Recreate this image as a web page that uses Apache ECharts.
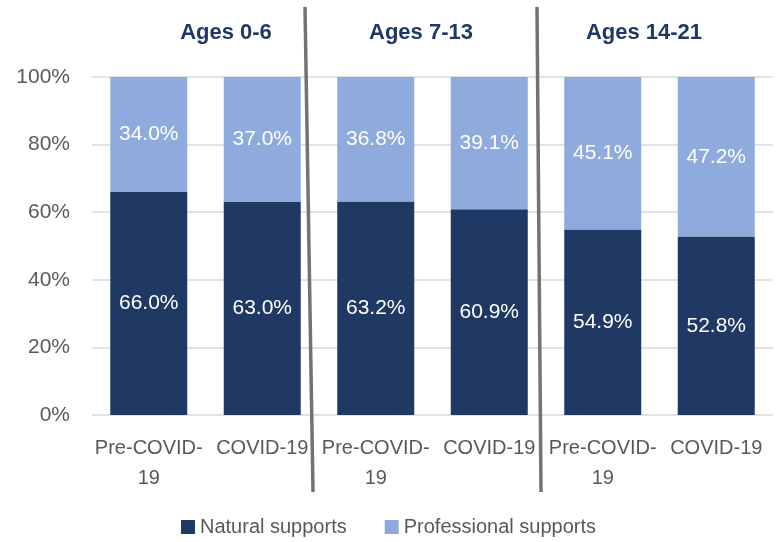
<!DOCTYPE html>
<html>
<head>
<meta charset="utf-8">
<script src="https://cdn.jsdelivr.net/npm/echarts@6/dist/echarts.min.js"></script>
<style>
  html, body { margin: 0; padding: 0; background: #fff; }
  #main { width: 777px; height: 542px; }
</style>
</head>
<body>
<div id="main"></div>
<script>
var categories = ['Pre-COVID-\n19', 'COVID-19', 'Pre-COVID-\n19', 'COVID-19', 'Pre-COVID-\n19', 'COVID-19'];
var natural = [66.0, 63.0, 63.2, 60.9, 54.9, 52.8];
var professional = [34.0, 37.0, 36.8, 39.1, 45.1, 47.2];
var groupTitles = ['Ages 0-6', 'Ages 7-13', 'Ages 14-21'];

var font = '"Liberation Sans", Arial, sans-serif';
var chart = echarts.init(document.getElementById('main'));

function pct(p) { return p.value.toFixed(1) + '%'; }

var option = {
    animation: false,
    textStyle: { fontFamily: font },
    grid: { left: 92, right: 4, top: 77, bottom: 127 },
    legend: {
        bottom: 0,
        left: 'center',
        itemWidth: 14,
        itemHeight: 14,
        itemGap: 38,
        icon: 'rect',
        textStyle: { fontSize: 20, color: '#595959', fontFamily: font },
        data: ['Natural supports', 'Professional supports']
    },
    xAxis: {
        type: 'category',
        data: categories,
        axisLine: { show: false },
        axisTick: { show: false },
        axisLabel: {
            interval: 0,
            fontSize: 20,
            lineHeight: 30,
            color: '#595959',
            margin: 18,
            fontFamily: font
        }
    },
    yAxis: {
        type: 'value',
        min: 0,
        max: 100,
        interval: 20,
        axisLabel: {
            formatter: '{value}%',
            fontSize: 21,
            color: '#595959',
            margin: 22,
            fontFamily: font
        },
        splitLine: { lineStyle: { color: '#d9d9d9', width: 1.5 } }
    },
    series: [
        {
            name: 'Natural supports',
            type: 'bar',
            stack: 'total',
            barWidth: 77,
            itemStyle: { color: '#203864' },
            label: { show: true, position: 'inside', color: '#fff', fontSize: 21, fontFamily: font, formatter: pct },
            data: natural
        },
        {
            name: 'Professional supports',
            type: 'bar',
            stack: 'total',
            barWidth: 77,
            itemStyle: { color: '#8faadc' },
            label: { show: true, position: 'inside', color: '#fff', fontSize: 21, fontFamily: font, formatter: pct },
            data: professional
        }
    ],
    graphic: [
        { type: 'line', shape: { x1: 305, y1: 7, x2: 313, y2: 492 }, style: { stroke: '#767171', lineWidth: 3.5 }, z: 100 },
        { type: 'line', shape: { x1: 537, y1: 7, x2: 541, y2: 492 }, style: { stroke: '#767171', lineWidth: 3.5 }, z: 100 },
        { type: 'text', x: 226, y: 33, style: { text: groupTitles[0], fill: '#1f3864', font: 'bold 22px ' + font, textAlign: 'center', textVerticalAlign: 'middle' } },
        { type: 'text', x: 421, y: 33, style: { text: groupTitles[1], fill: '#1f3864', font: 'bold 22px ' + font, textAlign: 'center', textVerticalAlign: 'middle' } },
        { type: 'text', x: 644, y: 33, style: { text: groupTitles[2], fill: '#1f3864', font: 'bold 22px ' + font, textAlign: 'center', textVerticalAlign: 'middle' } }
    ]
};

chart.setOption(option);
</script>
</body>
</html>
